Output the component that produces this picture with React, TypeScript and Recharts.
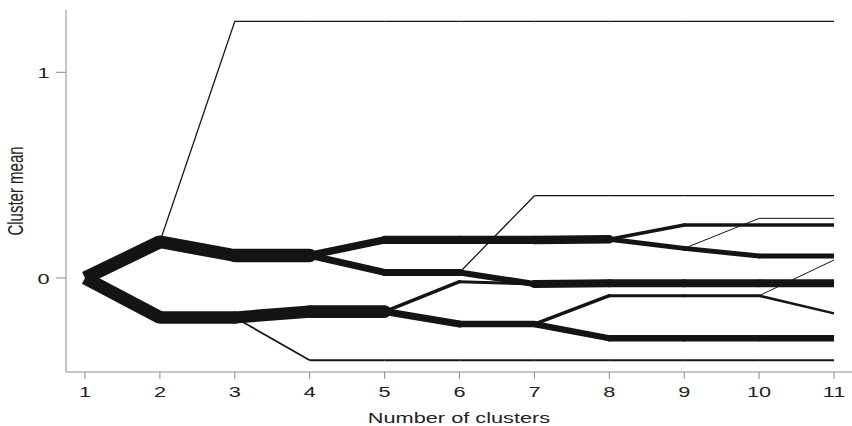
import React from "react";
import { LineChart, Line, XAxis, YAxis, Label } from "recharts";

// Number of clusters (x axis categories)
const clusterCounts = [1, 2, 3, 4, 5, 6, 7, 8, 9, 10, 11];
const meanTicks = [0, 1];

// Each transition: [mean at k, mean at k+1, observations moving along the edge]
type Edge = [number, number, number];
const step1: Edge[] = [[0, 0.176, 53], [0, -0.192, 53]];
const step2: Edge[] = [[0.176, 1.248, 5], [0.176, 0.109, 51], [-0.192, -0.192, 50]];
const step3: Edge[] = [[1.248, 1.248, 5], [0.109, 0.11, 54], [-0.192, -0.163, 49], [-0.192, -0.4, 7]];
const step4: Edge[] = [[1.248, 1.248, 5], [0.11, 0.185, 30], [0.11, 0.027, 28], [-0.163, -0.163, 51], [-0.4, -0.4, 8]];
const step5: Edge[] = [[1.248, 1.248, 5], [0.185, 0.185, 33], [0.027, 0.027, 28], [-0.163, -0.018, 14], [-0.163, -0.224, 28], [-0.4, -0.4, 8]];
const step6: Edge[] = [[1.248, 1.248, 5], [0.185, 0.185, 33], [0.027, 0.4, 5], [0.027, -0.029, 24], [-0.018, -0.029, 12], [-0.224, -0.224, 26], [-0.4, -0.4, 8]];
const step7: Edge[] = [[1.248, 1.248, 5], [0.4, 0.4, 5], [0.185, 0.188, 34], [-0.029, -0.026, 32], [-0.224, -0.086, 14], [-0.224, -0.293, 25], [-0.4, -0.4, 8]];
const step8: Edge[] = [[1.248, 1.248, 5], [0.4, 0.4, 5], [0.188, 0.258, 14], [0.188, 0.144, 20], [-0.026, -0.026, 32], [-0.086, -0.086, 12], [-0.293, -0.293, 26], [-0.4, -0.4, 8]];
const step9: Edge[] = [[1.248, 1.248, 5], [0.4, 0.4, 5], [0.258, 0.258, 14], [0.144, 0.29, 4], [0.144, 0.107, 20], [-0.026, -0.026, 32], [-0.086, -0.086, 12], [-0.293, -0.293, 26], [-0.4, -0.4, 8]];
const step10: Edge[] = [[1.248, 1.248, 5], [0.4, 0.4, 5], [0.29, 0.29, 4], [0.258, 0.258, 14], [0.107, 0.107, 20], [-0.026, -0.026, 32], [-0.086, 0.0875, 4], [-0.086, -0.172, 10], [-0.293, -0.293, 26], [-0.4, -0.4, 8]];
const steps: Edge[][] = [step1, step2, step3, step4, step5, step6, step7, step8, step9, step10];

const INK = "#141414";
const AXIS = "#8c8c8c";
const FONT = "'Liberation Sans', Arial, Helvetica, sans-serif";
const STRETCH = 1.45;
const WIDTH_PER_OBS = 0.25;

const XTick = (props: any) => {
  const { x, payload } = props;
  return (
    <text
      transform={`translate(${x},397) scale(${STRETCH},1)`}
      textAnchor="middle"
      fontFamily={FONT}
      fontSize={15}
      fill="#222"
    >
      {payload.value}
    </text>
  );
};

const YTick = (props: any) => {
  const { y, payload } = props;
  return (
    <text
      transform={`translate(49.5,${y + 5.5}) scale(${STRETCH},1)`}
      textAnchor="end"
      fontFamily={FONT}
      fontSize={15}
      fill="#222"
    >
      {payload.value}
    </text>
  );
};

export default function App() {
  const segments: { key: string; data: { x: number; y: number }[]; w: number; cap: string }[] = [];
  const last = steps.length - 1;
  steps.forEach((edges, i) => {
    const k = clusterCounts[i];
    edges.forEach(([a, b, n], j) => {
      const w = n * WIDTH_PER_OBS;
      segments.push({
        key: `s${k}-${j}`,
        data: [
          { x: k, y: a },
          { x: clusterCounts[i + 1], y: b },
        ],
        w,
        cap: i > 0 && i < last && w >= 3 ? "round" : "butt",
      });
    });
  });

  return (
    <div style={{ position: "absolute", left: 0, top: 0, width: 852, height: 426, background: "#fff" }}>
      <LineChart width={852} height={426} margin={{ top: 10, right: 0, bottom: 0, left: 0 }}>
        <XAxis
          type="number"
          dataKey="x"
          domain={[0.746, 11.24]}
          ticks={clusterCounts}
          allowDataOverflow
          height={54}
          tickSize={7}
          stroke={AXIS}
          tickLine={{ stroke: AXIS }}
          tick={<XTick />}
          interval={0}
        >
          <Label
            content={(p: any) => {
              const vb = p.viewBox || { x: 66, y: 372, width: 786 };
              return (
                <text
                  transform={`translate(${vb.x + vb.width / 2},422.7) scale(${STRETCH},1)`}
                  textAnchor="middle"
                  fontFamily={FONT}
                  fontSize={15}
                  fill="#222"
                >
                  Number of clusters
                </text>
              );
            }}
          />
        </XAxis>
        <YAxis
          type="number"
          dataKey="y"
          domain={[-0.457, 1.303]}
          ticks={meanTicks}
          allowDataOverflow
          width={66}
          tickSize={10}
          stroke={AXIS}
          tickLine={{ stroke: AXIS }}
          tick={<YTick />}
          interval={0}
        >
          <Label
            content={(p: any) => {
              const vb = p.viewBox || { x: 0, y: 10, height: 362 };
              return (
                <text
                  transform={`translate(23,${vb.y + vb.height / 2}) scale(${STRETCH},1) rotate(-90)`}
                  textAnchor="middle"
                  fontFamily={FONT}
                  fontSize={15}
                  fill="#222"
                >
                  Cluster mean
                </text>
              );
            }}
          />
        </YAxis>
        {segments.map((s) => (
          <Line
            key={s.key}
            data={s.data}
            dataKey="y"
            type="linear"
            stroke={INK}
            strokeWidth={s.w}
            strokeLinecap={s.cap as any}
            dot={false}
            activeDot={false}
            legendType="none"
            isAnimationActive={false}
          />
        ))}
      </LineChart>
    </div>
  );
}
